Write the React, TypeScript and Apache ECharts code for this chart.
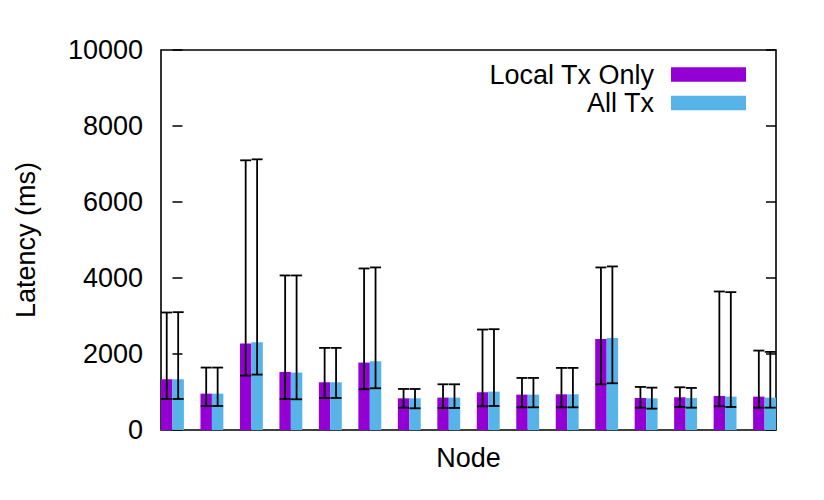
import React, { useEffect, useRef } from "react";
import * as echarts from "echarts";

// ---- Data ----
const nodes = ["1", "2", "3", "4", "5", "6", "7", "8", "9", "10", "11", "12", "13", "14", "15", "16"];
const seriesNames = ["Local Tx Only", "All Tx"];
const localMean = [1335, 957, 2275, 1528, 1256, 1774, 834, 852, 993, 931, 940, 2398, 843, 861, 896, 878];
const localLow = [817, 632, 1432, 817, 843, 1072, 588, 580, 624, 597, 597, 1203, 588, 606, 624, 588];
const localHigh = [3092, 1643, 7097, 4067, 2161, 4251, 1080, 1203, 2644, 1370, 1634, 4278, 1133, 1124, 3645, 2090];
const allMean = [1335, 957, 2310, 1511, 1256, 1809, 834, 852, 1010, 931, 940, 2424, 834, 843, 878, 852];
const allLow = [817, 632, 1458, 808, 843, 1098, 571, 580, 632, 597, 597, 1230, 562, 588, 606, 588];
const allHigh = [3101, 1643, 7123, 4067, 2161, 4278, 1080, 1203, 2653, 1370, 1634, 4304, 1115, 1107, 3628, 2055];
const yTicks = [0, 2000, 4000, 6000, 8000, 10000];

const PURPLE = "#9400D3";
const BLUE = "#56B4E9";
const FONT = "'Liberation Sans', Arial, Helvetica, sans-serif";
const FS = 27;
const BAR_W = 0.29; // bar width in x units (group spacing = 1)

function barSeries(name: string, means: number[], color: string, side: number) {
  return {
    name,
    type: "custom",
    itemStyle: { color },
    data: nodes.map((_, i) => [i, means[i]]),
    encode: { x: 0, y: 1 },
    clip: false,
    renderItem: (_p: any, api: any) => {
      const x = api.value(0);
      const v = api.value(1);
      const a = side < 0 ? x - BAR_W : x;
      const b = side < 0 ? x : x + BAR_W;
      const p0 = api.coord([a, v]);
      const p1 = api.coord([b, 0]);
      return {
        type: "rect",
        shape: { x: p0[0], y: p0[1], width: p1[0] - p0[0], height: p1[1] - p0[1] },
        style: { fill: color },
      };
    },
  };
}

function errSeries(name: string, lows: number[], highs: number[], side: number) {
  return {
    name,
    type: "custom",
    z: 5,
    data: nodes.map((_, i) => [i, lows[i], highs[i]]),
    encode: { x: 0, y: [1, 2] },
    clip: false,
    renderItem: (_p: any, api: any) => {
      const x = api.value(0) + side * BAR_W / 2;
      const lo = api.coord([x, api.value(1)]);
      const hi = api.coord([x, api.value(2)]);
      const half = 5.5;
      const st = { stroke: "#000", lineWidth: 1.8 };
      return {
        type: "group",
        children: [
          { type: "line", shape: { x1: lo[0], y1: lo[1], x2: hi[0], y2: hi[1] }, style: st },
          { type: "line", shape: { x1: lo[0] - half, y1: lo[1], x2: lo[0] + half, y2: lo[1] }, style: st },
          { type: "line", shape: { x1: hi[0] - half, y1: hi[1], x2: hi[0] + half, y2: hi[1] }, style: st },
        ],
      };
    },
  };
}

export default function App() {
  const ref = useRef<HTMLDivElement>(null);
  useEffect(() => {
    if (!ref.current) return;
    const chart = echarts.init(ref.current, null, { renderer: "svg" });
    const yAxisCommon = {
      type: "value",
      min: yTicks[0],
      max: yTicks[yTicks.length - 1],
      interval: 2000,
      splitLine: { show: false },
      axisLine: { show: false },
      axisTick: { show: true, inside: true, length: 10, lineStyle: { color: "#000", width: 1.5 } },
    };
    chart.setOption({
      animation: false,
      backgroundColor: "#fff",
      textStyle: { fontFamily: FONT },
      grid: {
        left: 161,
        right: 48,
        top: 50,
        bottom: 70,
        show: true,
        borderColor: "#000",
        borderWidth: 1.6,
        backgroundColor: "transparent",
      },
      legend: {
        data: seriesNames,
        orient: "vertical",
        align: "right",
        right: 78,
        top: 61,
        padding: 0,
        itemGap: 1.5,
        itemWidth: 75,
        itemHeight: 14.5,
        icon: "rect",
        selectedMode: false,
        textStyle: { fontSize: FS, color: "#000", fontFamily: FONT, padding: [0, 12, 0, 0], lineHeight: 26 },
      },
      xAxis: {
        type: "value",
        min: -BAR_W,
        max: nodes.length - 1 + BAR_W,
        name: "Node",
        nameLocation: "middle",
        nameGap: 14,
        nameTextStyle: { fontSize: FS, color: "#000", fontFamily: FONT },
        axisLine: { show: false },
        axisTick: { show: false },
        axisLabel: { show: false },
        splitLine: { show: false },
      },
      yAxis: [
        {
          ...yAxisCommon,
          position: "left",
          name: "Latency (ms)",
          nameLocation: "middle",
          nameRotate: 90,
          nameGap: 122,
          nameTextStyle: { fontSize: FS, color: "#000", fontFamily: FONT },
          axisLabel: {
            show: true,
            fontSize: FS,
            color: "#000",
            fontFamily: FONT,
            margin: 18,
            formatter: (v: number) => String(v),
          },
        },
        {
          ...yAxisCommon,
          position: "right",
          axisLabel: { show: false },
        },
      ],
      series: [
        barSeries(seriesNames[0], localMean, PURPLE, -1),
        barSeries(seriesNames[1], allMean, BLUE, 1),
        errSeries("Local Tx Only error", localLow, localHigh, -1),
        errSeries("All Tx error", allLow, allHigh, 1),
      ],
    });
    return () => chart.dispose();
  }, []);
  return (
    <div
      ref={ref}
      style={{ position: "fixed", left: 0, top: 0, width: 824, height: 500, background: "#fff" }}
    />
  );
}
